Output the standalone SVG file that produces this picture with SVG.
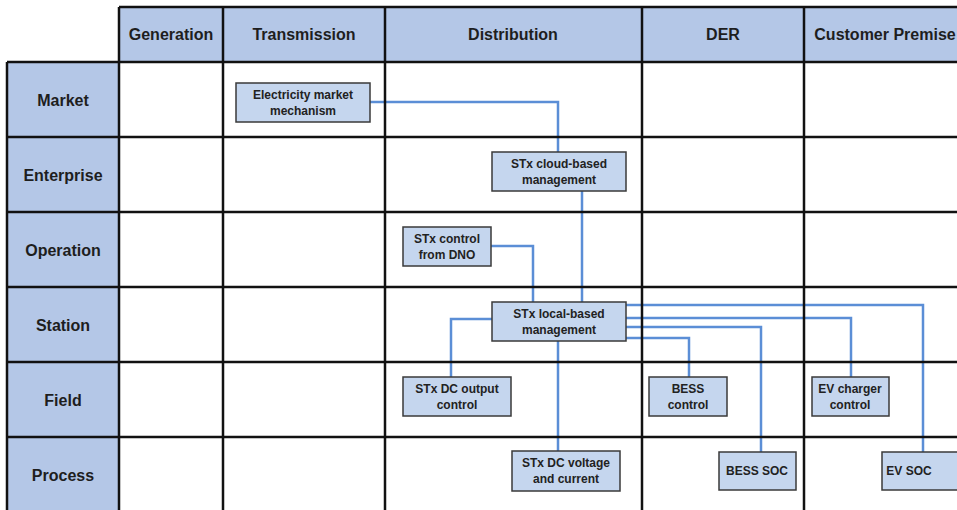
<svg xmlns="http://www.w3.org/2000/svg" width="957" height="510" viewBox="0 0 957 510">
  <style>
    .hdr { fill: #b4c7e7; }
    .grid { stroke: #111; stroke-width: 2.5; fill: none; }
    .hlabel { font-family: "Liberation Sans", Arial, sans-serif; font-weight: bold; font-size: 16px; fill: #1e1e1e; text-anchor: middle; }
    .box { fill: #c5d6ee; stroke: #3a3a3a; stroke-width: 1.5; }
    .ntext { font-family: "Liberation Sans", Arial, sans-serif; font-weight: bold; font-size: 12px; fill: #222; text-anchor: middle; }
    .link { stroke: #5b8ed6; stroke-width: 2.5; fill: none; }
  </style>

  <rect width="957" height="510" fill="#ffffff"/>

  <!-- header band and row-label column -->
  <rect class="hdr" x="119" y="7" width="838" height="55"/>
  <rect class="hdr" x="7" y="62" width="112" height="448"/>

  <!-- connectors -->
  <g id="connectors">
    <path class="link" d="M370 102 H558 V152"/>
    <path class="link" d="M582 191 V302"/>
    <path class="link" d="M491 246 H533 V302"/>
    <path class="link" d="M492 319 H451 V377"/>
    <path class="link" d="M558 341 V451"/>
    <path class="link" d="M626 305 H923 V452"/>
    <path class="link" d="M626 318 H851 V377"/>
    <path class="link" d="M626 327 H761 V452"/>
    <path class="link" d="M626 338 H689 V377"/>
  </g>

  <!-- table grid -->
  <g id="grid">
    <path class="grid" d="M119 7 H957 M7 62 H957 M7 137 H957 M7 212 H957 M7 287 H957 M7 362 H957 M7 437 H957"/>
    <path class="grid" d="M7 62 V510 M119 7 V510 M223 7 V510 M385 7 V510 M642 7 V510 M804 7 V510"/>
  </g>

  <!-- column headers -->
  <g id="columns">
    <text class="hlabel" x="171" y="40">Generation</text>
    <text class="hlabel" x="304" y="40">Transmission</text>
    <text class="hlabel" x="513" y="40">Distribution</text>
    <text class="hlabel" x="723" y="40">DER</text>
    <text class="hlabel" x="885" y="40">Customer Premise</text>
  </g>

  <!-- row headers -->
  <g id="rows">
    <text class="hlabel" x="63" y="106">Market</text>
    <text class="hlabel" x="63" y="181">Enterprise</text>
    <text class="hlabel" x="63" y="256">Operation</text>
    <text class="hlabel" x="63" y="331">Station</text>
    <text class="hlabel" x="63" y="406">Field</text>
    <text class="hlabel" x="63" y="481">Process</text>
  </g>

  <!-- nodes -->
  <g id="market-mechanism">
    <rect class="box" x="236" y="83" width="134" height="39"/>
    <text class="ntext" x="303" y="99">Electricity market</text>
    <text class="ntext" x="303" y="115">mechanism</text>
  </g>
  <g id="cloud-management">
    <rect class="box" x="492" y="152" width="134" height="39"/>
    <text class="ntext" x="559" y="168">STx cloud-based</text>
    <text class="ntext" x="559" y="184">management</text>
  </g>
  <g id="dno-control">
    <rect class="box" x="403" y="227" width="88" height="39"/>
    <text class="ntext" x="447" y="243">STx control</text>
    <text class="ntext" x="447" y="259">from DNO</text>
  </g>
  <g id="local-management">
    <rect class="box" x="492" y="302" width="134" height="39"/>
    <text class="ntext" x="559" y="318">STx local-based</text>
    <text class="ntext" x="559" y="334">management</text>
  </g>
  <g id="dc-output-control">
    <rect class="box" x="403" y="377" width="108" height="39"/>
    <text class="ntext" x="457" y="393">STx DC output</text>
    <text class="ntext" x="457" y="409">control</text>
  </g>
  <g id="dc-voltage-current">
    <rect class="box" x="512" y="451" width="108" height="40"/>
    <text class="ntext" x="566" y="467">STx DC voltage</text>
    <text class="ntext" x="566" y="483">and current</text>
  </g>
  <g id="bess-control">
    <rect class="box" x="649" y="377" width="78" height="39"/>
    <text class="ntext" x="688" y="393">BESS</text>
    <text class="ntext" x="688" y="409">control</text>
  </g>
  <g id="bess-soc">
    <rect class="box" x="719" y="452" width="77" height="38"/>
    <text class="ntext" x="757" y="475">BESS SOC</text>
  </g>
  <g id="ev-charger-control">
    <rect class="box" x="812" y="377" width="77" height="39"/>
    <text class="ntext" x="850" y="393">EV charger</text>
    <text class="ntext" x="850" y="409">control</text>
  </g>
  <g id="ev-soc">
    <rect class="box" x="882" y="452" width="80" height="38"/>
    <text class="ntext" x="909" y="475">EV SOC</text>
  </g>
</svg>
